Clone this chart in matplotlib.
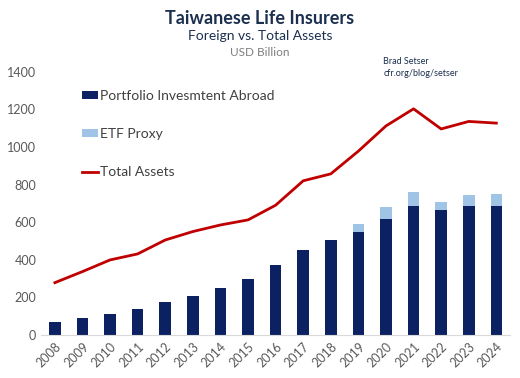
import numpy as np
import matplotlib.pyplot as plt

plt.rcParams['font.family'] = ['Lato', 'DejaVu Sans']

years = ['2008', '2009', '2010', '2011', '2012', '2013', '2014', '2015', '2016',
         '2017', '2018', '2019', '2020', '2021', '2022', '2023', '2024']
portfolio = [70, 90, 112, 138, 175, 207, 250, 300, 372, 452, 505, 550, 619, 686, 667, 686, 686]
etf = [0, 0, 0, 0, 0, 0, 0, 0, 0, 0, 0, 39, 64, 76, 39, 59, 64]
total = [278, 337, 399, 431, 505, 550, 585, 612, 690, 820, 857, 978, 1112, 1203, 1096, 1136, 1127]

navy = '#0b2161'
light = '#9fc4e6'
red = '#c00000'
grey = '#595959'

fig = plt.figure(figsize=(5.2, 3.78), dpi=100)
ax = fig.add_axes([0.079, 0.114, 0.902, 0.696])

x = np.arange(len(years))
b1 = ax.bar(x, portfolio, width=0.42, color=navy, label='Portfolio Invesmtent Abroad')
b2 = ax.bar(x, etf, width=0.42, bottom=portfolio, color=light, label='ETF Proxy')
l1, = ax.plot(x, total, color=red, lw=2.0, label='Total Assets')

ax.set_xlim(-0.5, len(years) - 0.5)
ax.set_ylim(0, 1400)
ax.set_yticks(range(0, 1401, 200))
ax.set_xticks(x)
ax.set_xticklabels(years, rotation=45, ha='right', rotation_mode='anchor')
ax.tick_params(axis='both', length=0, colors=grey, labelsize=9)
ax.tick_params(axis='x', pad=4)
for s in ['top', 'right', 'left']:
    ax.spines[s].set_visible(False)
ax.spines['bottom'].set_color('#d9d9d9')

leg = ax.legend(handles=[b1, b2, l1], loc='upper left', bbox_to_anchor=(0.06, 0.98),
                frameon=False, fontsize=10, labelspacing=1.9, handlelength=1.2,
                handletextpad=0.1, handleheight=0.5)
for t in leg.get_texts():
    t.set_color('#404040')

fig.text(0.5, 0.952, 'Taiwanese Life Insurers', ha='center', va='center',
         fontsize=13, fontweight='bold', color='#1b2f4f')
fig.text(0.5, 0.905, 'Foreign vs. Total Assets', ha='center', va='center',
         fontsize=10, color='#1b2f4f')
fig.text(0.5, 0.862, 'USD Billion', ha='center', va='center',
         fontsize=8.5, color='#7f7f7f')
fig.text(0.737, 0.836, 'Brad Setser', ha='left', va='center', fontsize=6.5, color='#1b2f4f')
fig.text(0.737, 0.805, 'cfr.org/blog/setser', ha='left', va='center', fontsize=6.5, color='#1b2f4f')

fig.savefig('out.png', dpi=100)
